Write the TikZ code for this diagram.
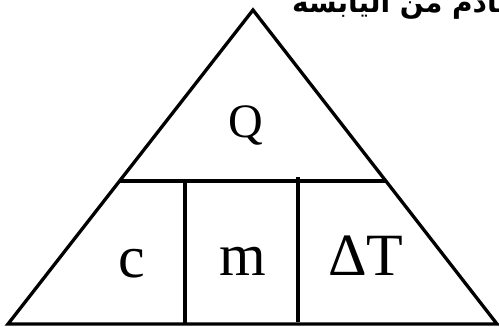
\documentclass[tikz,border=0pt]{standalone}
\usepackage{fontspec}
\setmainfont{Liberation Serif}
\newfontfamily\arabicfont[Script=Arabic]{DejaVu Sans}
\TeXXeTstate=1
\begin{document}
\begin{tikzpicture}[x=1pt,y=-1pt,
  edge/.style={line width=3.3pt,line join=miter},
  bigtxt/.style={font=\fontsize{60}{60}\selectfont,anchor=base,inner sep=0pt},
  toptxt/.style={font=\fontsize{48}{48}\selectfont,anchor=base,inner sep=0pt}]
\useasboundingbox (0,0) rectangle (499,327);
\clip (0,0) rectangle (499,327);
\coordinate (A) at (253,10);
\coordinate (BL) at (8,324);
\coordinate (BR) at (497,324);
\coordinate (L) at (119.5,181);
\coordinate (R) at (386,181);
\coordinate (V1t) at (185,181);
\coordinate (V1b) at (185,324);
\coordinate (V2t) at (298,177);
\coordinate (V2b) at (298,322);
\draw[edge] (A) -- (BL) -- (BR) -- cycle;
\draw[edge] (L) -- (R);
\draw[edge] (V1t) -- (V1b);
\draw[edge] (V2t) -- (V2b);
\node[toptxt] (q) at (246,137) {Q};
\node[bigtxt] (c) at (132,277) {c};
\node[bigtxt] (m) at (243,275) {m};
\node[bigtxt] (dt) at (366,275) {ΔT};
\node[anchor=base west,inner sep=0pt,font=\arabicfont\bfseries\fontsize{28}{28}\selectfont] (title) at (292,12) {\beginR قادم من اليابسة\endR};
\end{tikzpicture}
\end{document}
